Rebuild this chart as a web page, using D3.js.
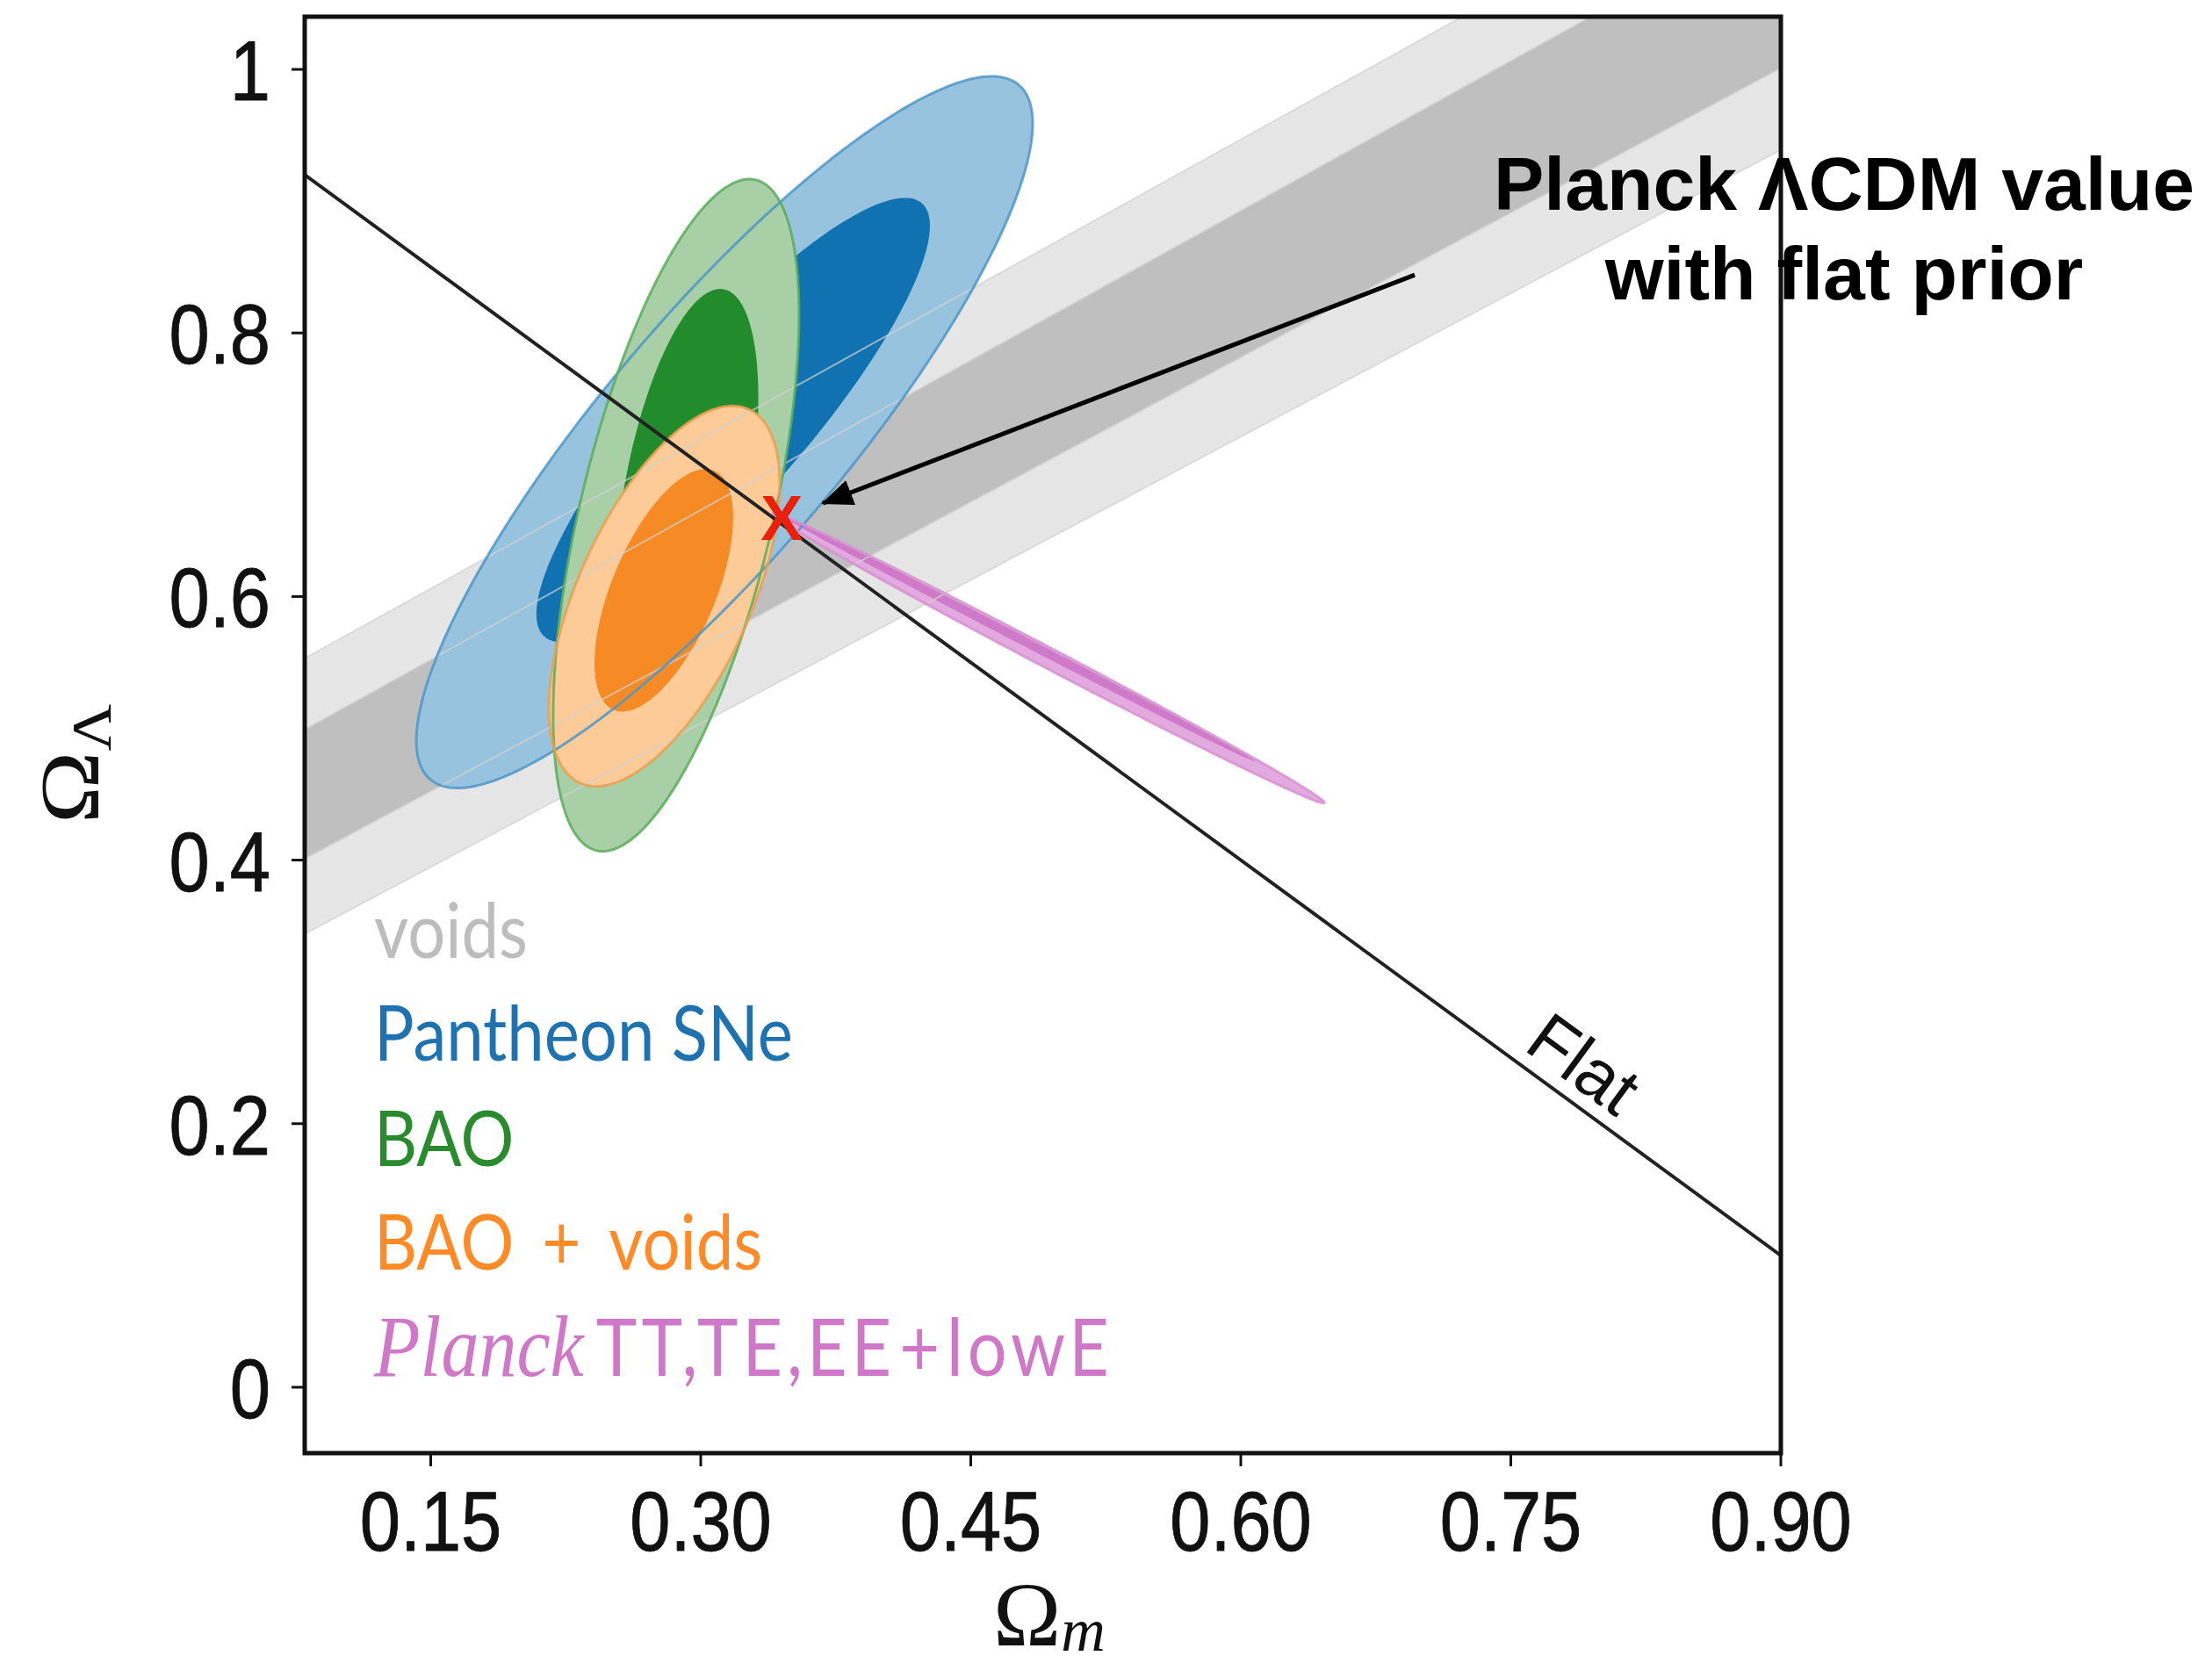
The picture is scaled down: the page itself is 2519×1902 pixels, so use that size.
<!DOCTYPE html>
<html>
<head>
<meta charset="utf-8">
<script src="https://cdn.jsdelivr.net/npm/d3@7"></script>
<style>
  body { margin: 0; background: #fff; }
  svg { display: block; }
</style>
</head>
<body>
<svg id="chart" width="2519" height="1902"></svg>
<script>
// ---- axis ticks ----
const xTicks = [0.15, 0.30, 0.45, 0.60, 0.75, 0.90];
const xTickLabels = ["0.15", "0.30", "0.45", "0.60", "0.75", "0.90"];
const yTicks = [0, 0.2, 0.4, 0.6, 0.8, 1];
const yTickLabels = ["0", "0.2", "0.4", "0.6", "0.8", "1"];

// ---- confidence contours: [centre Ωm, centre ΩΛ, σm, σΛ, ρ]; outer (95%) then inner (68%) ----
const pantheon = [[0.3132, 0.7247, 0.1712, 0.270, 0.867], [0.318, 0.734, 0.1093, 0.1685, 0.874]];
const bao      = [[0.2863, 0.6617, 0.0683, 0.255, 0.596], [0.2920, 0.6767, 0.040, 0.1567, 0.47]];
const baoVoids = [[0.2798, 0.6003, 0.0641, 0.1443, 0.59], [0.2795, 0.6047, 0.0385, 0.092, 0.60]];
const planckCMB = [[0.4932, 0.5533, 0.1532, 0.110, -0.997], [0.4751, 0.5693, 0.1327, 0.0943, -0.9992]];

// ---- voids degeneracy bands: [upper edge, lower edge], each edge from Ωm = 0.08 to 0.90 ----
const voidsOuter = [[[0.08, 0.553], [0.90, 1.174]], [[0.08, 0.344], [0.90, 0.939]]];
const voidsInner = [[[0.08, 0.499], [0.90, 1.120]], [[0.08, 0.401], [0.90, 1.001]]];

// ---- flat universe line (Ωm + ΩΛ = 1) end points in Ωm ----
const flatOmegaM = [0.08, 0.90];

// ---- Planck ΛCDM point and annotation arrow (start, tip) ----
const planckPoint = [0.345, 0.660];
const arrowPath = [[0.6966, 0.844], [0.3678, 0.6707]];

// ---- legend ----
const legendNames = ["voids", "Pantheon SNe", "BAO", "BAO + voids", "Planck"];
const legendColors = ["#bdbdbd", "#1f72b0", "#2a8a2e", "#ff8a26", "#cf78c7"];

const svg = d3.select("#chart");
const W = 2519, H = 1902;
const mLeft = 347, mRight = 2028, mTop = 19, mBottom = 1655;
const stretch = 1.16;

const x = d3.scaleLinear().domain([0.08, 0.90]).range([mLeft, mRight]);
const y = d3.scaleLinear().domain([-0.05, 1.04]).range([mBottom, mTop]);

svg.append("rect").attr("width", W).attr("height", H).attr("fill", "#fff");

const defs = svg.append("defs");
defs.append("clipPath").attr("id", "plotClip")
  .append("rect").attr("x", mLeft).attr("y", mTop)
  .attr("width", mRight - mLeft).attr("height", mBottom - mTop);

defs.append("marker").attr("id", "arrowHead")
  .attr("markerUnits", "userSpaceOnUse")
  .attr("viewBox", "0 0 36 30").attr("refX", 34).attr("refY", 15)
  .attr("markerWidth", 36).attr("markerHeight", 30).attr("orient", "auto")
  .append("path").attr("d", "M0,0 L36,15 L0,30 Z").attr("fill", "#000");

const plot = svg.append("g").attr("clip-path", "url(#plotClip)");

// ellipse outline from a Gaussian-like parameter set
function ellipsePoints(p, n = 240) {
  const [cx, cy, sx, sy, r] = p;
  const q = Math.sqrt(1 - r * r);
  return d3.range(n).map(i => {
    const t = 2 * Math.PI * i / n;
    return [x(cx + sx * Math.cos(t)), y(cy + sy * (r * Math.cos(t) + q * Math.sin(t)))];
  });
}
const closed = d3.line().curve(d3.curveLinearClosed);

function bandPath(edges) {
  const up = edges[0].map(d => [x(d[0]), y(d[1])]);
  const lo = edges[1].map(d => [x(d[0]), y(d[1])]).reverse();
  return closed(up.concat(lo));
}

// voids bands
plot.append("path").attr("d", bandPath(voidsOuter)).attr("fill", "#e6e6e6");
plot.append("path").attr("d", bandPath(voidsInner)).attr("fill", "#bfbfbf");

const sets = [
  { c: pantheon, fill: ["#97c3df", "#1072b0"], line: "#4d98c8" },
  { c: bao, fill: ["#a8cfa6", "#228b2b"], line: "#5aad5c" },
  { c: baoVoids, fill: ["#fccb98", "#f68a25"], line: "#eaa050" },
  { c: planckCMB, fill: ["#e2aade", "#cf79c9"], line: "#d692d1" }
];

sets.forEach(s => {
  plot.append("path").attr("d", closed(ellipsePoints(s.c[0]))).attr("fill", s.fill[0]);
  plot.append("path").attr("d", closed(ellipsePoints(s.c[1]))).attr("fill", s.fill[1]);
});

// faint edges of the voids bands over the filled contours
[voidsOuter, voidsInner].forEach(b => b.forEach(edge => {
  plot.append("line")
    .attr("x1", x(edge[0][0])).attr("y1", y(edge[0][1]))
    .attr("x2", x(edge[1][0])).attr("y2", y(edge[1][1]))
    .attr("stroke", "#d2d2d2").attr("stroke-width", 2).attr("stroke-opacity", 0.7);
}));

// contour outlines
sets.forEach(s => {
  plot.append("path").attr("d", closed(ellipsePoints(s.c[0]))).attr("fill", "none")
    .attr("stroke", s.line).attr("stroke-width", 3).attr("stroke-opacity", 0.85);
});

// flat line
plot.append("line")
  .attr("x1", x(flatOmegaM[0])).attr("y1", y(1 - flatOmegaM[0]))
  .attr("x2", x(flatOmegaM[1])).attr("y2", y(1 - flatOmegaM[1]))
  .attr("stroke", "#222").attr("stroke-width", 4);

const flatAngle = Math.atan2(y(1 - flatOmegaM[1]) - y(1 - flatOmegaM[0]),
                             x(flatOmegaM[1]) - x(flatOmegaM[0])) * 180 / Math.PI;
const flatAt = 0.778;
svg.append("text")
  .attr("transform", `translate(${x(flatAt)},${y(1 - flatAt)}) rotate(${flatAngle}) translate(0,-16)`)
  .attr("text-anchor", "middle")
  .attr("font-family", "Liberation Sans, Arial, sans-serif")
  .attr("font-size", 80)
  .attr("fill", "#111")
  .text("Flat");

// frame
svg.append("rect").attr("x", mLeft).attr("y", mTop)
  .attr("width", mRight - mLeft).attr("height", mBottom - mTop)
  .attr("fill", "none").attr("stroke", "#111").attr("stroke-width", 5);

// x axis
const xAxis = svg.append("g");
xTicks.forEach((t, i) => {
  xAxis.append("line").attr("x1", x(t)).attr("x2", x(t))
    .attr("y1", mBottom).attr("y2", mBottom + 15)
    .attr("stroke", "#111").attr("stroke-width", 3);
  xAxis.append("text")
    .attr("transform", `translate(${x(t)},1766) scale(1,${stretch})`)
    .attr("text-anchor", "middle")
    .attr("font-family", "Liberation Sans, Arial, sans-serif")
    .attr("font-size", 83).attr("fill", "#111")
    .attr("stroke", "#111").attr("stroke-width", 0.8)
    .text(xTickLabels[i]);
});

// y axis
const yAxis = svg.append("g");
yTicks.forEach((t, i) => {
  yAxis.append("line").attr("x1", mLeft - 15).attr("x2", mLeft)
    .attr("y1", y(t)).attr("y2", y(t))
    .attr("stroke", "#111").attr("stroke-width", 3);
  yAxis.append("text")
    .attr("transform", `translate(308,${y(t) + 35}) scale(1,${stretch})`)
    .attr("text-anchor", "end")
    .attr("font-family", "Liberation Sans, Arial, sans-serif")
    .attr("font-size", 83).attr("fill", "#111")
    .attr("stroke", "#111").attr("stroke-width", 0.8)
    .text(yTickLabels[i]);
});

// axis titles
const xTitle = svg.append("text")
  .attr("x", 1195).attr("y", 1874)
  .attr("text-anchor", "middle")
  .attr("font-family", "Liberation Serif, DejaVu Serif, serif")
  .attr("font-size", 104).attr("fill", "#111");
xTitle.append("tspan").text("Ω");
xTitle.append("tspan").attr("font-style", "italic").attr("font-size", 70).attr("dy", 6).text("m");

const yTitle = svg.append("text")
  .attr("transform", `translate(112,870) rotate(-90) scale(${stretch},1)`)
  .attr("text-anchor", "middle")
  .attr("font-family", "Liberation Serif, DejaVu Serif, serif")
  .attr("font-size", 96).attr("fill", "#111");
yTitle.append("tspan").text("Ω");
yTitle.append("tspan").attr("font-size", 64).attr("dy", 14).text("Λ");

// legend
const legendY = [1091, 1208, 1328, 1446, 1567];
legendNames.forEach((name, i) => {
  const t = svg.append("text")
    .attr("transform", `translate(426,${legendY[i]}) scale(1,${stretch})`)
    .attr("font-family", "Lato, Open Sans, sans-serif")
    .attr("font-size", 76).attr("fill", legendColors[i]);
  if (name === "Planck") {
    t.append("tspan").attr("font-family", "Liberation Serif, DejaVu Serif, serif")
      .attr("font-style", "italic").attr("font-size", 86).text("Planck");
    t.append("tspan").attr("dx", 14).attr("letter-spacing", 5).attr("font-size", 79).text("TT,TE,EE");
    t.append("tspan").attr("dx", 4).attr("font-size", 79).text("+");
    t.append("tspan").attr("dx", 8).attr("letter-spacing", 5).attr("font-size", 79).text("lowE");
  } else if (name === "BAO + voids") {
    t.append("tspan").text("BAO");
    t.append("tspan").attr("dx", 32).text("+");
    t.append("tspan").attr("dx", 32).text("voids");
  } else {
    t.text(name);
  }
});

// Planck ΛCDM marker and annotation
svg.append("text")
  .attr("x", x(planckPoint[0])).attr("y", y(planckPoint[1]) + 26)
  .attr("text-anchor", "middle")
  .attr("font-family", "Liberation Sans, Arial, sans-serif")
  .attr("font-weight", "bold").attr("font-size", 72)
  .attr("fill", "#e8200c").text("X");

svg.append("line")
  .attr("x1", x(arrowPath[0][0])).attr("y1", y(arrowPath[0][1]))
  .attr("x2", x(arrowPath[1][0])).attr("y2", y(arrowPath[1][1]))
  .attr("stroke", "#000").attr("stroke-width", 5)
  .attr("marker-end", "url(#arrowHead)");

const note = svg.append("text")
  .attr("text-anchor", "middle")
  .attr("font-family", "Liberation Sans, Arial, sans-serif")
  .attr("font-weight", "bold").attr("font-size", 86).attr("fill", "#000");
note.append("tspan").attr("x", 2100).attr("y", 239).text("Planck ΛCDM value");
note.append("tspan").attr("x", 2100).attr("y", 341).text("with flat prior");
</script>
</body>
</html>
